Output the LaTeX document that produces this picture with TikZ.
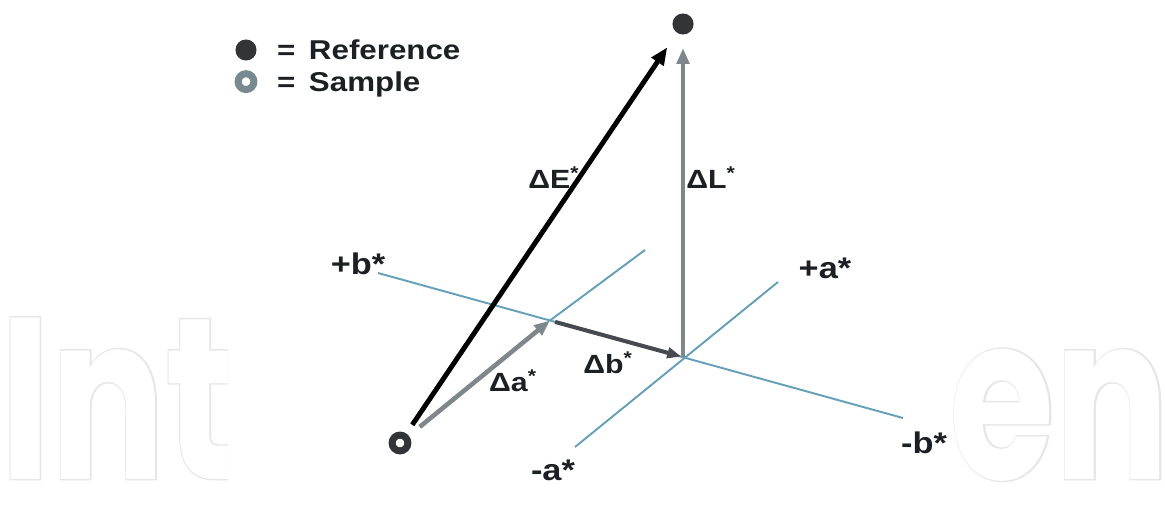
\documentclass[tikz,border=0pt]{standalone}
\usepackage{fontspec}
\setmainfont{Liberation Sans}[FakeStretch=1.15]
\newfontfamily\wmfont{Poppins}[FakeStretch=0.74]
\newfontfamily\wmfontfat{Poppins}[FakeStretch=0.74,FakeBold=1.2]
\usetikzlibrary{arrows.meta,positioning}
\definecolor{InkBlack}{RGB}{28,32,36}
\definecolor{DotGray}{RGB}{50,52,55}
\definecolor{RingGray}{RGB}{120,138,145}
\definecolor{AxisBlue}{RGB}{100,160,186}
\definecolor{ArrowGray}{RGB}{125,135,140}
\definecolor{DarkSlate}{RGB}{68,74,80}
\definecolor{MarkGray}{RGB}{230,230,230}
\tikzset{
  refdot/.style={circle,fill=DotGray,inner sep=0pt,outer sep=0pt,minimum size=12pt},
  smpdot/.style={circle,draw=DotGray,line width=4pt,inner sep=0pt,outer sep=0pt,minimum size=9pt},
  legsmp/.style={smpdot,draw=RingGray},
  axis/.style={draw=AxisBlue,line width=1.1pt},
  earrow/.style={draw=black,line width=2.8pt,-{Triangle[length=10pt,width=8pt]}},
  garrow/.style={draw=ArrowGray,line width=2.6pt,-{Triangle[length=9pt,width=7pt]}},
  darrow/.style={draw=DarkSlate,line width=2.3pt,-{Triangle[length=8pt,width=6pt]}},
  legtxt/.style={inner sep=0pt,text=InkBlack,font=\bfseries\fontsize{15.5pt}{17pt}\selectfont,text height=11pt,text depth=0pt},
  dlbl/.style={inner sep=0pt,text=InkBlack,font=\bfseries\fontsize{15pt}{16pt}\selectfont},
  axlbl/.style={inner sep=0pt,text=InkBlack,font=\bfseries\fontsize{17pt}{18pt}\selectfont},
  wmark/.style={inner sep=0pt,text=white,font=\wmfont\bfseries\fontsize{131pt}{131pt}\selectfont},
  wmedge/.style={inner sep=0pt,text=MarkGray,font=\wmfontfat\bfseries\fontsize{131pt}{131pt}\selectfont}
}

\begin{document}
\begin{tikzpicture}[x=0.02cm,y=-0.02cm]
\useasboundingbox (0,0) rectangle (1165,524);

\begin{scope}
\clip (0,0) rectangle (228,524);
\node[wmedge,anchor=base west] (wmLe) at (0,479) {Int};
\node[wmark,anchor=base west] (wmL) at (0,479) {Int};
\end{scope}
\begin{scope}
\clip (953,0) rectangle (1165,524);
\node[wmedge,anchor=base east] (wmRe) at (1170,479) {en};
\node[wmark,anchor=base east] (wmR) at (1170,479) {en};
\end{scope}

\node[refdot] (legref) at (246,50) {};
\node[legsmp,below=7.5pt of legref] (legsmp) {};
\node[legtxt,right=11.5pt of legref] (reftxt) {=\enspace Reference};
\node[legtxt,anchor=west] (smptxt) at (reftxt.west |- legsmp) {=\enspace Sample};

\coordinate (bp) at (378,273);
\coordinate (bm) at (903,418);
\coordinate (am) at (575,447);
\coordinate (ap) at (778,282);
\coordinate (O) at (683,357);
\coordinate (P) at (550,320.5);
\coordinate (ap2) at (645,250);

\node[refdot] (ref) at (683,24) {};
\node[smpdot] (smp) at (400,443) {};

\draw[axis] (bp) -- (bm);
\draw[axis] (am) -- (ap);
\draw[axis] (P) -- (ap2);

\draw[darrow,shorten <=3pt,shorten >=1pt] (P) -- (O);
\draw[garrow,shorten <=10pt] (smp) -- (P);
\draw[garrow,shorten >=7.7pt] (O) -- (ref);
\draw[earrow,shorten <=8pt,shorten >=10pt] (smp) -- (ref);

\node[dlbl] (dE) at (554,178) {ΔE\textsuperscript{*}};
\node[dlbl] (dL) at (711,178) {ΔL\textsuperscript{*}};
\node[dlbl] (da) at (513,381) {Δa\textsuperscript{*}};
\node[dlbl] (db) at (608,363) {Δb\textsuperscript{*}};

\node[axlbl] (lbp) at (358,264) {+b*};
\node[axlbl] (lap) at (825,268) {+a*};
\node[axlbl] (lbm) at (924,443) {-b*};
\node[axlbl] (lam) at (553,470) {-a*};
\end{tikzpicture}
\end{document}
